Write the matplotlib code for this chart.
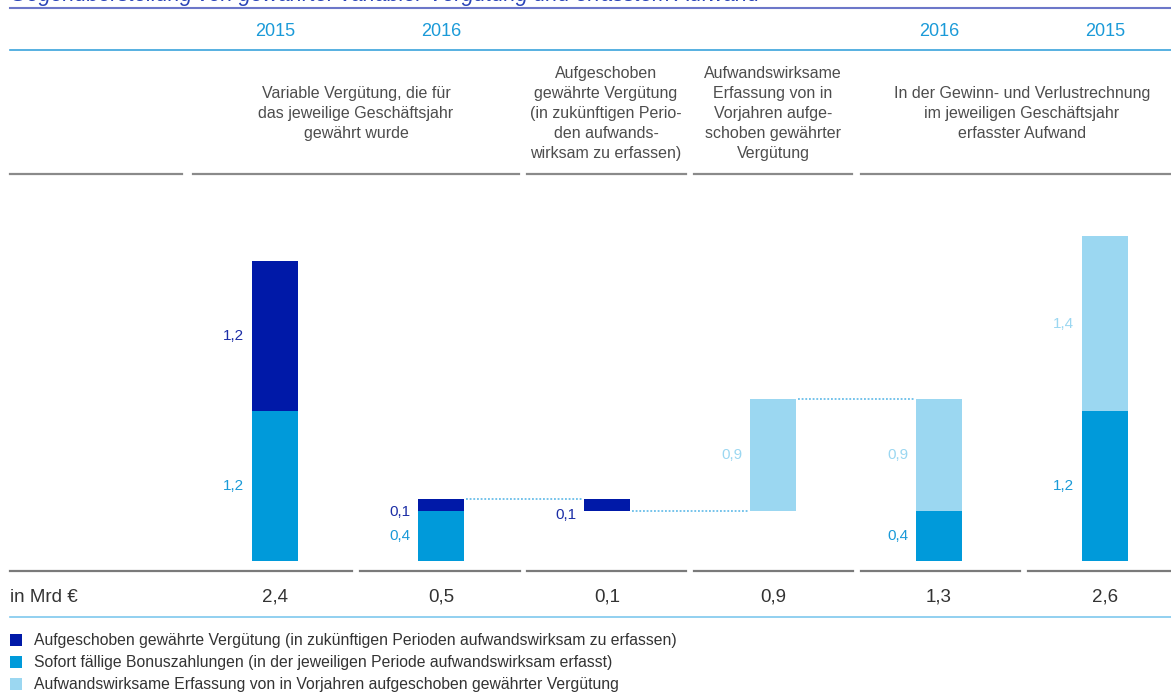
import matplotlib
matplotlib.use("Agg")
import matplotlib.pyplot as plt
from matplotlib.patches import Rectangle

plt.rcParams['font.family'] = ['Liberation Sans', 'DejaVu Sans']

# ---------------- data ----------------
title = "Gegenüberstellung von gewährter variabler Vergütung und erfasstem Aufwand"
years = ["2015", "2016", "", "", "2016", "2015"]
headers = [
    "Variable Vergütung, die für\ndas jeweilige Geschäftsjahr\ngewährt wurde",
    "Aufgeschoben\ngewährte Vergütung\n(in zukünftigen Perio-\nden aufwands-\nwirksam zu erfassen)",
    "Aufwandswirksame\nErfassung von in\nVorjahren aufge-\nschoben gewährter\nVergütung",
    "In der Gewinn- und Verlustrechnung\nim jeweiligen Geschäftsjahr\nerfasster Aufwand",
]
immediate = [1.2, 0.4, 0.0, 0.0, 0.4, 1.2]   # Sofort fällige Bonuszahlungen
deferred = [1.2, 0.1, 0.1, 0.0, 0.0, 0.0]    # Aufgeschoben gewährte Vergütung
prior = [0.0, 0.0, 0.0, 0.9, 0.9, 1.4]       # Erfassung aus Vorjahren
float_base = [0.0, 0.0, 0.4, 0.4, 0.0, 0.0]  # waterfall floating start
totals = ["2,4", "0,5", "0,1", "0,9", "1,3", "2,6"]
unit_label = "in Mrd €"
legend_labels = [
    "Aufgeschoben gewährte Vergütung (in zukünftigen Perioden aufwandswirksam zu erfassen)",
    "Sofort fällige Bonuszahlungen (in der jeweiligen Periode aufwandswirksam erfasst)",
    "Aufwandswirksame Erfassung von in Vorjahren aufgeschoben gewährter Vergütung",
]

C_DARK = "#0019a8"
C_MID = "#009ada"
C_LIGHT = "#9bd7f1"
T_DARK = "#1c2ea6"
T_MID = "#1a9ad8"
T_LIGHT = "#9bd7f1"
GRAY = "#4d4d4d"

W, H = 1171, 693
fig = plt.figure(figsize=(W / 100, H / 100), dpi=100)
ax = fig.add_axes([0, 0, 1, 1])
# pixel mapping: x center of column i = 275 + 166 i ; y=0 at px 561, 125 px per unit
x0, dx = 275.0, 166.0
y0, dy = 561.0, 125.0
ax.set_xlim((0 - x0) / dx, (W - x0) / dx)
ax.set_ylim((y0 - H) / dy, (y0 - 0) / dy)
ax.axis("off")


def fx(px):
    return px / W


def fy(py):
    return 1 - py / H


def hline(py, xa, xb, color, lw=1.5, ls="-"):
    fig.add_artist(plt.Line2D([fx(xa), fx(xb)], [fy(py), fy(py)], color=color, lw=lw, ls=ls))


# title (cut off at top, as in the source) and rules
fig.text(fx(10), fy(1), title, fontsize=15.5, style="italic", color="#2a44b8", va="baseline", ha="left")
hline(8, 10, W, "#6c77c9", lw=1.5)
hline(50, 10, W, "#3aa3dc", lw=1.2)
hline(617, 10, W, "#7fc8ee", lw=1.2)

# years
for i, yr in enumerate(years):
    if yr:
        ax.text(i, (y0 - 31) / dy, yr, fontsize=13, color=T_MID, ha="center", va="center")

# headers
header_x = [356, 606, 773, 1022]
header_top = [95, 75, 75, 95]   # centre of first line
for hx, ht, txt in zip(header_x, header_top, headers):
    fig.text(fx(hx), fy(ht - 9), txt, fontsize=11.5, color=GRAY, ha="center", va="top", linespacing=1.42)

# header separators
for xa, xb in [(10, 182), (193, 519), (527, 686), (694, 852), (861, W)]:
    hline(174, xa, xb, "#8a8a8a", lw=1.6)
# bottom separators
for xa, xb in [(10, 352), (360, 520), (527, 686), (694, 853), (861, 1020), (1028, W)]:
    hline(571, xa, xb, "#7a7a7a", lw=1.6)

# bars
bw = 46 / dx
xs = list(range(len(immediate)))
for i in xs:
    b = float_base[i]
    if immediate[i]:
        ax.bar(i, immediate[i], bw, bottom=b, color=C_MID, lw=0)
        b += immediate[i]
    if deferred[i]:
        ax.bar(i, deferred[i], bw, bottom=b, color=C_DARK, lw=0)
        b += deferred[i]
    if prior[i]:
        ax.bar(i, prior[i], bw, bottom=b, color=C_LIGHT, lw=0)
        b += prior[i]


def fmt(v):
    return f"{v:.1f}".replace(".", ",")


# value labels
lx_off = bw / 2 + 8 / dx
for i in xs:
    b = float_base[i]
    segs = [(immediate[i], T_MID), (deferred[i], T_DARK), (prior[i], T_LIGHT)]
    for v, col in segs:
        if v:
            ymid = b + v / 2
            if v < 0.2:  # small segment: label shifted below the segment top
                ymid = b - 0.005 if i == 1 else b - 0.035
            ax.text(i - lx_off, ymid, fmt(v), fontsize=11, color=col, ha="right", va="center")
            b += v

# dotted connectors
def connector(i, level):
    ax.plot([i + bw / 2 + 2 / dx, i + 1 - bw / 2 - 2 / dx], [level, level],
            color="#4fb3e6", lw=1.1, ls=(0, (1.2, 1.2)))

connector(1, immediate[1] + deferred[1])
connector(2, float_base[2])
connector(3, float_base[3] + prior[3])

# totals row
ax.text((10 - x0) / dx, (y0 - 597) / dy, unit_label, fontsize=13.5, color="#333333", ha="left", va="center")
for i, t in enumerate(totals):
    ax.text(i, (y0 - 597) / dy, t, fontsize=13.5, color="#333333", ha="center", va="center")

# legend
for k, (lab, col) in enumerate(zip(legend_labels, [C_DARK, C_MID, C_LIGHT])):
    py = 640 + 22 * k
    fig.add_artist(Rectangle((fx(10), fy(py + 6)), 12 / W, 12 / H, color=col, lw=0))
    fig.text(fx(34), fy(py), lab, fontsize=11.3, color="#333333", ha="left", va="center")

fig.savefig("out.png", dpi=100)
